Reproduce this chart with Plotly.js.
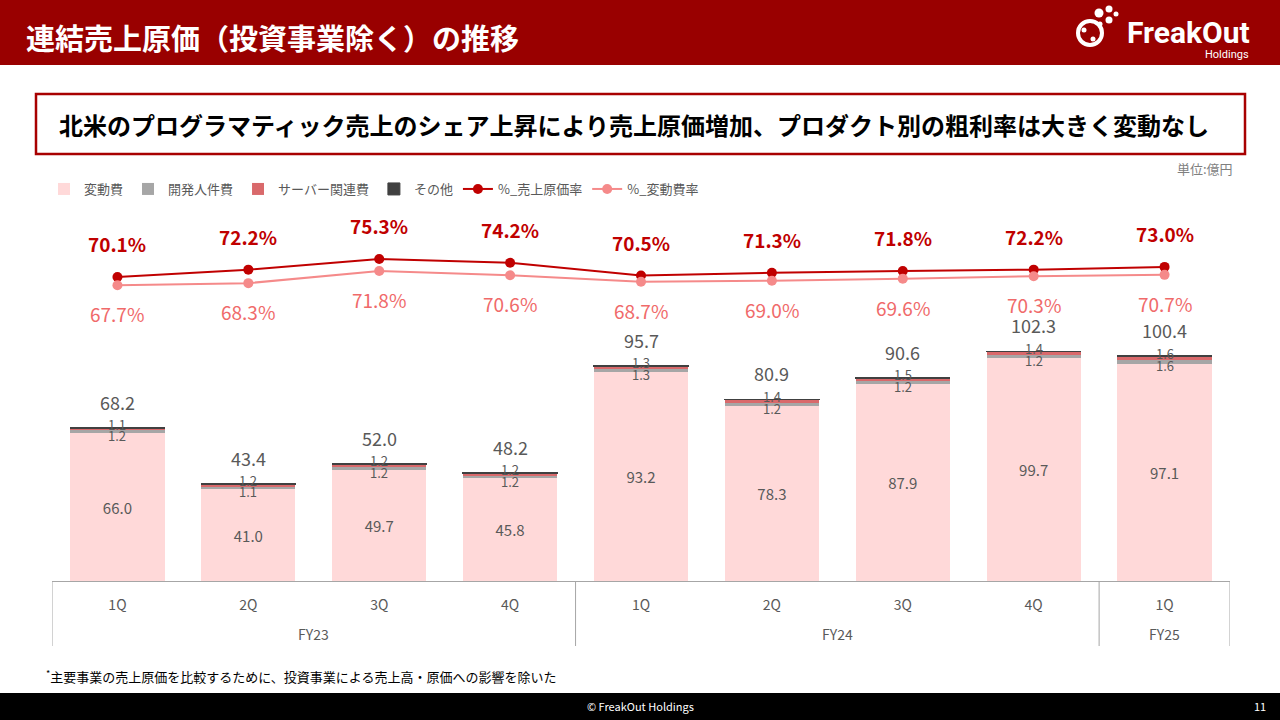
<!DOCTYPE html>
<html>
<head>
<meta charset="utf-8">
<script src="https://cdn.plot.ly/plotly-3.0.1.min.js"></script>
<style>
html,body{margin:0;padding:0;background:#fff;}
#chart{width:1280px;height:720px;}
</style>
</head>
<body>
<div id="chart"></div>
<script>
// ---- data ----
var fiscalYears = ["FY23","FY23","FY23","FY23","FY24","FY24","FY24","FY24","FY25"];
var quarters = ["1Q","2Q","3Q","4Q","1Q","2Q","3Q","4Q","1Q"];
var variableCost = [66.0, 41.0, 49.7, 45.8, 93.2, 78.3, 87.9, 99.7, 97.1];
var devStaffCost = [1.2, 1.1, 1.2, 1.2, 1.3, 1.2, 1.2, 1.2, 1.6];
var serverCost   = [1.1, 1.2, 1.2, 1.2, 1.3, 1.4, 1.5, 1.4, 1.6];
var otherCost    = [0.2, 0.2, 0.2, 0.2, 0.2, 0.2, 0.2, 0.2, 0.2];
var totals       = [68.2, 43.4, 52.0, 48.2, 95.7, 80.9, 90.6, 102.3, 100.4];
var cogsRate     = [70.1, 72.2, 75.3, 74.2, 70.5, 71.3, 71.8, 72.2, 73.0];
var varCostRate  = [67.7, 68.3, 71.8, 70.6, 68.7, 69.0, 69.6, 70.3, 70.7];
var seriesNames = ["変動費","開発人件費","サーバー関連費","その他","%_売上原価率","%_変動費率"];

// category positions (index of each quarter)
var idx = quarters.map(function(_, i){ return i; });

// ---- layout helpers (pixel -> paper) ----
var PL = 52, PR = 1230, PT = 215, PB = 581;
function X(px){ return (px - PL) / (PR - PL); }
function Y(py){ return (PB - py) / (PB - PT); }

var FONT = "Noto Sans CJK JP, Noto Sans, sans-serif";
var GREY = "#595959";
var LINEC = "#A6A6A6";

var traces = [
  {type:"bar", name:seriesNames[0], x:idx, y:variableCost,
   marker:{color:"#FFD9D9"},
   text:variableCost.map(function(v){return v.toFixed(1);}),
   textposition:"inside", insidetextanchor:"middle", textangle:0,
   textfont:{family:FONT, size:15, color:GREY}},
  {type:"bar", name:seriesNames[1], x:idx, y:devStaffCost, marker:{color:"#A6A6A6"}},
  {type:"bar", name:seriesNames[2], x:idx, y:serverCost, marker:{color:"#D9696B"}},
  {type:"bar", name:seriesNames[3], x:idx, y:otherCost,
   marker:{color:"#404040", line:{color:"#404040", width:1}}},
  {type:"scatter", mode:"lines+markers", name:seriesNames[4], x:idx, y:cogsRate,
   yaxis:"y2", line:{color:"#C00000", width:2}, marker:{color:"#C00000", size:10}},
  {type:"scatter", mode:"lines+markers", name:seriesNames[5], x:idx, y:varCostRate,
   yaxis:"y2", line:{color:"#F58A8A", width:2}, marker:{color:"#F58A8A", size:10}}
];

var annotations = [];
totals.forEach(function(t, i){
  var top = variableCost[i] + devStaffCost[i] + serverCost[i] + otherCost[i];
  annotations.push({x:i, y:top, xref:"x", yref:"y", text:t.toFixed(1), showarrow:false,
    yanchor:"bottom", yshift:11, font:{family:FONT, size:18, color:GREY}});
  annotations.push({x:i, y:variableCost[i] + devStaffCost[i]/2, xref:"x", yref:"y",
    text:devStaffCost[i].toFixed(1), showarrow:false, yshift:-4,
    font:{family:FONT, size:13, color:GREY}});
  annotations.push({x:i, y:variableCost[i] + devStaffCost[i] + serverCost[i]/2, xref:"x", yref:"y",
    text:serverCost[i].toFixed(1), showarrow:false, yshift:5,
    font:{family:FONT, size:13, color:GREY}});
});
cogsRate.forEach(function(r, i){
  annotations.push({x:i, y:r, xref:"x", yref:"y2", text:r.toFixed(1)+"%", showarrow:false,
    yanchor:"bottom", yshift:18, font:{family:FONT, size:19, color:"#C00000", weight:"bold"}});
});
varCostRate.forEach(function(r, i){
  annotations.push({x:i, y:r, xref:"x", yref:"y2", text:r.toFixed(1)+"%", showarrow:false,
    yanchor:"top", yshift:-13, font:{family:FONT, size:19, color:"#F06A6A"}});
});

// fiscal-year groups: labels and dividers
var shapes = [];
var groups = [];
fiscalYears.forEach(function(fy, i){
  if(!groups.length || groups[groups.length-1].name !== fy) groups.push({name:fy, first:i, last:i});
  else groups[groups.length-1].last = i;
});
groups.forEach(function(g, k){
  annotations.push({x:(g.first + g.last)/2, xref:"x", y:Y(634), yref:"paper", text:g.name,
    showarrow:false, yanchor:"middle", font:{family:FONT, size:14, color:GREY}});
  if(k === 0) shapes.push({type:"line", xref:"x", yref:"paper", x0:g.first-0.5, x1:g.first-0.5,
    y0:0, y1:Y(646), line:{color:LINEC, width:1}});
  shapes.push({type:"line", xref:"x", yref:"paper", x0:g.last+0.5, x1:g.last+0.5,
    y0:0, y1:Y(646), line:{color:LINEC, width:1}});
});

// page texts
annotations.push({xref:"paper", yref:"paper", x:X(24), y:Y(37), xanchor:"left", yanchor:"middle",
  text:"<b>連結売上原価（投資事業除く）の推移</b>", showarrow:false,
  font:{family:FONT, size:29, color:"#ffffff"}});
annotations.push({xref:"paper", yref:"paper", x:X(1252), y:Y(33), xanchor:"right", yanchor:"middle",
  text:"<b>FreakOut</b>", showarrow:false, font:{family:"Roboto, "+FONT, size:30, color:"#ffffff"}});
annotations.push({xref:"paper", yref:"paper", x:X(1251), y:Y(55), xanchor:"right", yanchor:"middle",
  text:"Holdings", showarrow:false, font:{family:"Roboto, "+FONT, size:11, color:"#ffffff"}});
annotations.push({xref:"paper", yref:"paper", x:X(57), y:Y(124), xanchor:"left", yanchor:"middle",
  text:"<b>北米のプログラマティック売上のシェア上昇により売上原価増加、プロダクト別の粗利率は大きく変動なし</b>",
  showarrow:false, font:{family:FONT, size:24, color:"#000000"}});
annotations.push({xref:"paper", yref:"paper", x:X(1235), y:Y(168), xanchor:"right", yanchor:"middle",
  text:"単位:億円", showarrow:false, font:{family:FONT, size:13, color:"#7F7F7F"}});
annotations.push({xref:"paper", yref:"paper", x:X(44), y:Y(676), xanchor:"left", yanchor:"middle",
  text:"<sup>*</sup>主要事業の売上原価を比較するために、投資事業による売上高・原価への影響を除いた",
  showarrow:false, font:{family:FONT, size:13, color:"#000000"}});
annotations.push({xref:"paper", yref:"paper", x:X(640), y:Y(706), xanchor:"center", yanchor:"middle",
  text:"© FreakOut Holdings", showarrow:false, font:{family:FONT, size:11, color:"#ffffff"}});
annotations.push({xref:"paper", yref:"paper", x:X(1268), y:Y(706), xanchor:"right", yanchor:"middle",
  text:"11", showarrow:false, font:{family:FONT, size:11, color:"#ffffff"}});

shapes.push(
  {type:"rect", xref:"paper", yref:"paper", x0:X(0), x1:X(1280), y0:Y(0), y1:Y(65),
   fillcolor:"#990000", line:{width:0}, layer:"below"},
  {type:"rect", xref:"paper", yref:"paper", x0:X(0), x1:X(1280), y0:Y(693), y1:Y(720),
   fillcolor:"#000000", line:{width:0}, layer:"below"},
  {type:"rect", xref:"paper", yref:"paper", x0:X(36), x1:X(1245), y0:Y(94), y1:Y(154),
   fillcolor:"rgba(0,0,0,0)", line:{color:"#A80000", width:2.5}, layer:"below"}
);
// logo icon (decoration)
var dots = [[1090,33,12,false],[1099,13,4.5,true],[1109,9,3.5,true],[1109,20,3.5,true],[1100,24,2.5,true],[1116,14,2.5,true],[1084,30,2.5,true],[1093,39,2.5,true]];
dots.forEach(function(d){
  shapes.push({type:"circle", xref:"paper", yref:"paper",
    x0:X(d[0]-d[2]), x1:X(d[0]+d[2]), y0:Y(d[1]-d[2]), y1:Y(d[1]+d[2]),
    fillcolor:d[3] ? "#ffffff" : "rgba(0,0,0,0)", line:{color:"#ffffff", width:d[3]?0:4}});
});

var layout = {
  width:1280, height:720,
  margin:{l:PL, r:1280-PR, t:PT, b:720-PB, pad:0},
  paper_bgcolor:"#ffffff", plot_bgcolor:"#ffffff",
  barmode:"stack", bargap:0.28,
  font:{family:FONT, color:GREY},
  showlegend:true,
  legend:{orientation:"h", x:X(44), xanchor:"left", y:Y(189), yanchor:"middle",
    font:{family:FONT, size:13, color:GREY}, bgcolor:"rgba(0,0,0,0)", traceorder:"normal",
    itemwidth:30},
  xaxis:{range:[-0.5, quarters.length-0.5], tickmode:"array", tickvals:idx, ticktext:quarters,
    showline:true, linecolor:LINEC, linewidth:1, ticks:"", ticklabelstandoff:11,
    tickfont:{family:FONT, size:14, color:GREY}, showgrid:false, zeroline:false, fixedrange:true},
  yaxis:{range:[0,163.4], visible:false, fixedrange:true},
  yaxis2:{range:[-17.8,88.0], overlaying:"y", visible:false, fixedrange:true},
  annotations:annotations,
  shapes:shapes
};

Plotly.newPlot("chart", traces, layout, {displayModeBar:false, staticPlot:true});
</script>
</body>
</html>
